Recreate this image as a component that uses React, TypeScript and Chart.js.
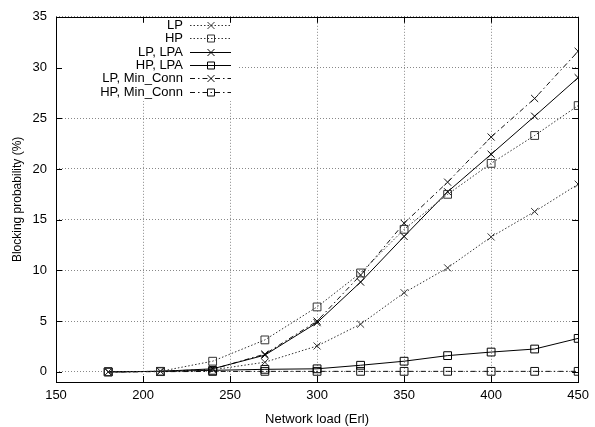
import React, { useEffect, useRef } from 'react';
import { Chart, registerables } from 'chart.js';

Chart.register(...registerables);

const loads = [180, 210, 240, 270, 300, 325, 350, 375, 400, 425, 450];
const lp = [0, 0.05, 0.2, 0.95, 2.55, 4.7, 7.8, 10.25, 13.3, 15.8, 18.5];
const hp = [0, 0.05, 1.05, 3.15, 6.4, 9.75, 14.05, 17.5, 20.55, 23.3, 26.25];
const lpLpa = [0, 0.05, 0.3, 1.65, 4.85, 8.85, 13.35, 17.75, 21.45, 25.2, 29.0];
const hpLpa = [0, 0.05, 0.15, 0.25, 0.3, 0.65, 1.05, 1.6, 1.95, 2.25, 3.3];
const lpMin = [0, 0.05, 0.25, 1.75, 5.0, 9.55, 14.65, 18.7, 23.15, 26.95, 31.6];
const hpMin = [0, 0.02, 0.04, 0.05, 0.05, 0.05, 0.05, 0.05, 0.05, 0.05, 0.05];

const seriesLabels = ['LP', 'HP', 'LP, LPA', 'HP, LPA', 'LP, Min_Conn', 'HP, Min_Conn'];
const xTicks = [150, 200, 250, 300, 350, 400, 450];
const yTicks = [0, 5, 10, 15, 20, 25, 30, 35];

const DOT = [1.5, 2];
const DASHDOT = [5, 3, 1.5, 3];
const FONT = '"Liberation Sans", Arial, sans-serif';

export default function App() {
  const ref = useRef<HTMLCanvasElement>(null);

  useEffect(() => {
    document.body.style.margin = '0';
    const canvas = ref.current;
    if (!canvas) return;

    const mk = (label: string, values: number[], dash: number[], style: string, color: string) => ({
      label,
      data: loads.map((x, i) => ({ x, y: values[i] })),
      borderColor: color,
      borderWidth: 1,
      borderDash: dash,
      pointStyle: style,
      pointRadius: style === 'rect' ? 5.5 : 5,
      pointBorderColor: color,
      pointBackgroundColor: 'rgba(0,0,0,0)',
      pointBorderWidth: 1,
      fill: false,
      tension: 0,
    });

    const datasets = [
      mk(seriesLabels[0], lp, DOT, 'crossRot', '#333'),
      mk(seriesLabels[1], hp, DOT, 'rect', '#333'),
      mk(seriesLabels[2], lpLpa, [], 'crossRot', '#000'),
      mk(seriesLabels[3], hpLpa, [], 'rect', '#000'),
      mk(seriesLabels[4], lpMin, DASHDOT, 'crossRot', '#111'),
      mk(seriesLabels[5], hpMin, DASHDOT, 'rect', '#111'),
    ];

    const textRight = 183;
    const x0 = 190;
    const x1 = 231;
    const mx = 211;
    const rowTop = 25;
    const rowH = 13.3;

    const framePlugin = {
      id: 'frame',
      beforeDatasetsDraw(chart: any) {
        const { ctx, chartArea: a } = chart;
        ctx.save();
        ctx.fillStyle = '#fff';
        ctx.fillRect(a.left + 1, a.top + 1, 238 - a.left, 100 - a.top);
        ctx.restore();
      },
      afterDraw(chart: any) {
        const { ctx, chartArea: a, scales } = chart;
        ctx.save();
        ctx.strokeStyle = '#000';
        ctx.lineWidth = 1;
        ctx.setLineDash([]);
        ctx.strokeRect(Math.round(a.left) + 0.5, Math.round(a.top) + 0.5, Math.round(a.right - a.left), Math.round(a.bottom - a.top));
        const t = 6;
        ctx.beginPath();
        xTicks.forEach((v) => {
          const px = Math.round(scales.x.getPixelForValue(v)) + 0.5;
          ctx.moveTo(px, a.bottom);
          ctx.lineTo(px, a.bottom - t);
          ctx.moveTo(px, a.top);
          ctx.lineTo(px, a.top + t);
        });
        yTicks.forEach((v) => {
          const py = Math.round(scales.y.getPixelForValue(v)) + 0.5;
          ctx.moveTo(a.left, py);
          ctx.lineTo(a.left + t, py);
          ctx.moveTo(a.right, py);
          ctx.lineTo(a.right - t, py);
        });
        ctx.stroke();

        // legend
        ctx.font = `13px ${FONT}`;
        ctx.textAlign = 'right';
        ctx.textBaseline = 'middle';
        chart.data.datasets.forEach((ds: any, i: number) => {
          const y = Math.round(rowTop + i * rowH) + 0.5;
          ctx.fillStyle = '#000';
          ctx.fillText(ds.label, textRight, y);
          ctx.strokeStyle = ds.borderColor;
          ctx.lineWidth = 1;
          ctx.setLineDash(ds.borderDash);
          ctx.beginPath();
          ctx.moveTo(x0, y);
          ctx.lineTo(x1, y);
          ctx.stroke();
          ctx.setLineDash([]);
          ctx.beginPath();
          if (ds.pointStyle === 'rect') {
            ctx.rect(mx - 3.5, y - 3.5, 7, 7);
          } else {
            ctx.moveTo(mx - 3.5, y - 3.5);
            ctx.lineTo(mx + 3.5, y + 3.5);
            ctx.moveTo(mx + 3.5, y - 3.5);
            ctx.lineTo(mx - 3.5, y + 3.5);
          }
          ctx.stroke();
        });
        ctx.restore();
      },
    };

    const chart = new Chart(canvas, {
      type: 'line',
      data: { datasets: datasets as any },
      options: {
        animation: false,
        responsive: false,
        maintainAspectRatio: false,
        layout: { padding: { top: 15, right: 11, left: 0, bottom: 0 } },
        plugins: { legend: { display: false }, tooltip: { enabled: false } },
        scales: {
          x: {
            type: 'linear',
            min: 150,
            max: 450,
            afterBuildTicks: (s: any) => { s.ticks = xTicks.map((v) => ({ value: v })); },
            afterFit: (s: any) => { s.height = 45; },
            ticks: { color: '#000', font: { family: FONT, size: 13 }, padding: 6, maxRotation: 0 },
            grid: { color: '#888', lineWidth: 1, drawTicks: false },
            border: { display: false, dash: [1, 2] },
            title: { display: true, text: 'Network load (Erl)', color: '#000', font: { family: FONT, size: 13 }, padding: { top: 6, bottom: 0 } },
          },
          y: {
            type: 'linear',
            min: -1,
            max: 35,
            afterBuildTicks: (s: any) => { s.ticks = yTicks.map((v) => ({ value: v })); },
            afterFit: (s: any) => { s.width = 56; },
            ticks: { color: '#000', font: { family: FONT, size: 13 }, padding: 9 },
            grid: { color: '#888', lineWidth: 1, drawTicks: false },
            border: { display: false, dash: [1, 2] },
            title: { display: true, text: 'Blocking probability (%)', color: '#000', font: { family: FONT, size: 12 }, padding: { top: 10, bottom: 0 } },
          },
        },
      },
      plugins: [framePlugin],
    });

    return () => chart.destroy();
  }, []);

  return (
    <div style={{ width: 595, height: 427 }}>
      <canvas ref={ref} width={595} height={427} style={{ display: 'block' }} />
    </div>
  );
}
